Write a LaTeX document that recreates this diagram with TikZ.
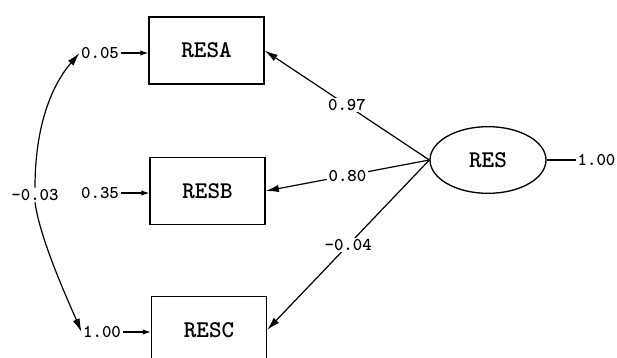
\documentclass[tikz,border=0pt]{standalone}
\usepackage{fontspec}
\usetikzlibrary{arrows.meta,shapes.geometric}

\tikzset{
  varbox/.style={draw,line width=1.1pt,minimum width=86pt,minimum height=50pt,font=\fontsize{18}{20}\selectfont\ttfamily\bfseries},
  latent/.style={draw,ellipse,line width=1pt,minimum width=87pt,minimum height=50pt,inner sep=0pt,font=\fontsize{18}{20}\selectfont\ttfamily\bfseries},
  est/.style={inner sep=1pt,font=\fontsize{13.5}{15}\selectfont\ttfamily\bfseries},
  path/.style={line width=0.9pt,-{Latex[length=10pt,width=5.5pt]}},
  errarrow/.style={line width=0.9pt,-{Latex[length=6pt,width=4pt]}},
}

\begin{document}
\begin{tikzpicture}[x=0.75pt,y=0.75pt,yscale=-1,xscale=1]
\useasboundingbox (0,0) rectangle (617,357);

%Shape: Rectangle [id:RESA] 
\node [varbox] (resa) at (206.5,50.5) {RESA};
%Shape: Rectangle [id:RESB] 
\node [varbox] (resb) at (207.5,191) {RESB};
%Shape: Rectangle [id:RESC] 
\node [varbox] (resc) at (209,330) {RESC};
%Shape: Ellipse [id:RES] 
\node [latent] (res) at (488,160) {RES};

% Text Node
\node [est] (ea) at (100,53) {0.05};
% Text Node
\node [est] (eb) at (100,193) {0.35};
% Text Node
\node [est] (ec) at (102,332) {1.00};
% Text Node
\node [est] (cov) at (35,195) {-0.03};
% Text Node
\node [est,anchor=west] (vres) at (576,160) {1.00};

%Straight Lines [id:loadings] 
\draw [path] (res.west) -- (resa.east) node [midway,est,fill=white] {0.97};
\draw [path] (res.west) -- (resb.east) node [midway,est,fill=white] {0.80};
\draw [path] (res.west) -- (resc.east) node [midway,est,fill=white] {-0.04};
%Straight Lines [id:variance] 
\draw [line width=0.9pt] (res.east) -- (vres.west);

%Straight Lines [id:errors] 
\draw [errarrow] (ea.east) -- (ea.east -| resa.west);
\draw [errarrow] (eb.east) -- (eb.east -| resb.west);
\draw [errarrow] (ec.east) -- (ec.east -| resc.west);

%Curve Lines [id:covariance] 
\draw [path] (cov.north) .. controls (35,125) and (52,85) .. (ea.west);
\draw [path] (cov.south) .. controls (40,240) and (70,305) .. (ec.west);

\end{tikzpicture}
\end{document}
